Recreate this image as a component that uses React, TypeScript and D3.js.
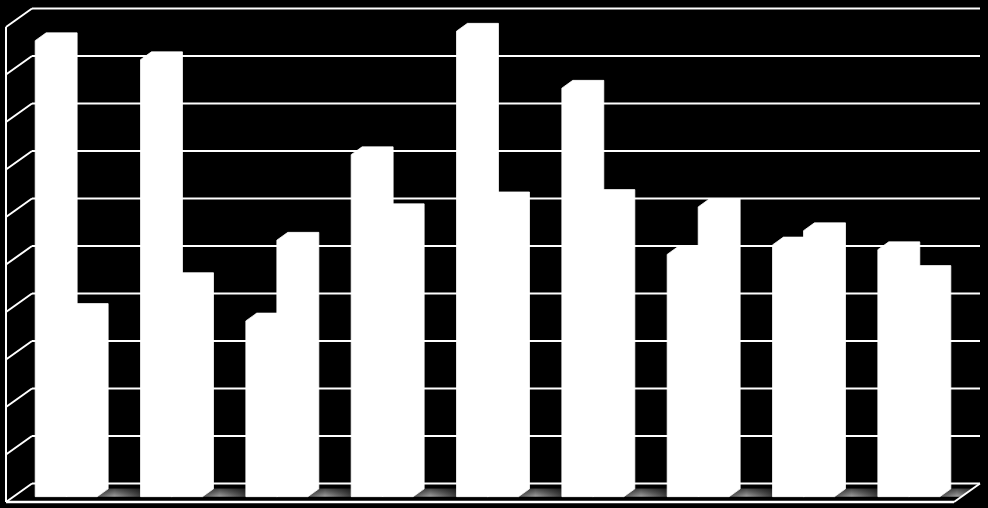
import React from 'react';
import * as d3 from 'd3';

const categories = ['1', '2', '3', '4', '5', '6', '7', '8', '9'];
const seriesNames = ['A', 'B'];
const seriesA = [96, 92, 37, 72, 98, 86, 51, 53, 52];
const seriesB = [39, 45.5, 54, 60, 62.5, 63, 61, 56, 47];
const gridTicks = [0, 10, 20, 30, 40, 50, 60, 70, 80, 90, 100];

const W = 988;
const H = 508;
const frontLeft = 6;
const frontRight = 954;
const floorFrontY = 502;
const depth: [number, number] = [26, -18.5];
const plotH = 475;
const f1 = 0.29;
const f2 = 0.71;

const pts = (arr: number[][]) => arr.map((p) => p.join(',')).join(' ');

export default function App() {
  const x = d3
    .scaleBand<string>()
    .domain(categories)
    .range([frontLeft, frontRight])
    .paddingInner(0.411)
    .paddingOuter(0.2055);
  const xs = d3.scaleBand<string>().domain(seriesNames).range([0, x.bandwidth()]);
  const h = d3.scaleLinear().domain([0, 100]).range([0, plotH]);

  const backX0 = frontLeft + depth[0];
  const backX1 = frontRight + depth[0];
  const backY0 = floorFrontY + depth[1];

  const shiftX = depth[0] * f1;
  const baseY = floorFrontY + depth[1] * f1;
  const ox = depth[0] * (f2 - f1);
  const oy = depth[1] * (f2 - f1);
  const bw = xs.bandwidth();

  const floorPoly = pts([
    [frontLeft, floorFrontY],
    [frontRight, floorFrontY],
    [backX1, backY0],
    [backX0, backY0],
  ]);

  const bars: { x0: number; hh: number; key: string }[] = [];
  categories.forEach((c, i) => {
    [seriesA[i], seriesB[i]].forEach((v, j) => {
      bars.push({ x0: (x(c) as number) + (xs(seriesNames[j]) as number) + shiftX, hh: h(v), key: c + '-' + j });
    });
  });

  const shadowLen = 46;

  return (
    <>
      <style>{`body{margin:0;background:#000;}`}</style>
      <svg width={W} height={H} style={{ display: 'block', background: '#000' }}>
        <defs>
          <clipPath id="floorClip">
            <polygon points={floorPoly} />
          </clipPath>
          <linearGradient id="shadowGrad" x1="0" y1="0" x2="1" y2="0">
            <stop offset="0" stopColor="#555" />
            <stop offset="0.3" stopColor="#a0a0a0" />
            <stop offset="0.55" stopColor="#6a6a6a" />
            <stop offset="0.85" stopColor="#2a2a2a" />
            <stop offset="1" stopColor="#141414" />
          </linearGradient>
          <linearGradient id="shadowFade" x1="0" y1="0" x2="0" y2="1">
            <stop offset="0" stopColor="#000" stopOpacity={0.55} />
            <stop offset="1" stopColor="#000" stopOpacity={0} />
          </linearGradient>
        </defs>
        <rect x={0} y={0} width={W} height={H} fill="#000" />

        {/* back wall + left wall gridlines */}
        {gridTicks.map((t) => {
          const yb = backY0 - h(t);
          return (
            <g key={t}>
              <line x1={backX0} y1={yb} x2={backX1} y2={yb} stroke="#fff" strokeWidth={2} />
              <line x1={backX0} y1={yb} x2={frontLeft} y2={yb - depth[1]} stroke="#fff" strokeWidth={2} />
            </g>
          );
        })}

        {/* front-left vertical edge */}
        <line
          x1={frontLeft}
          y1={floorFrontY - plotH}
          x2={frontLeft}
          y2={floorFrontY}
          stroke="#fff"
          strokeWidth={2}
        />

        {/* floor shadows */}
        <g clipPath="url(#floorClip)">
          {categories.map((c) => {
            const sx = (x(c) as number) + shiftX + x.bandwidth();
            const poly = pts([
              [sx, baseY],
              [sx + ox, baseY + oy],
              [sx + ox + shadowLen, baseY + oy],
              [sx + shadowLen, baseY],
            ]);
            return (
              <g key={c}>
                <polygon points={poly} fill="url(#shadowGrad)" />
                <polygon points={poly} fill="url(#shadowFade)" />
              </g>
            );
          })}
        </g>

        {/* floor front and right edges */}
        <line x1={frontLeft} y1={floorFrontY} x2={frontRight} y2={floorFrontY} stroke="#fff" strokeWidth={2.5} />
        <line x1={frontRight} y1={floorFrontY} x2={backX1} y2={backY0} stroke="#fff" strokeWidth={2} />

        {/* 3D bars drawn as solid silhouettes */}
        {bars.map((b) => {
          const top = baseY - b.hh;
          const shape = pts([
            [b.x0, baseY],
            [b.x0, top],
            [b.x0 + ox, top + oy],
            [b.x0 + bw + ox, top + oy],
            [b.x0 + bw + ox, baseY + oy],
            [b.x0 + bw, baseY],
          ]);
          return <polygon key={b.key} points={shape} fill="#fff" stroke="#fff" strokeWidth={0.8} strokeLinejoin="miter" />;
        })}
      </svg>
    </>
  );
}
